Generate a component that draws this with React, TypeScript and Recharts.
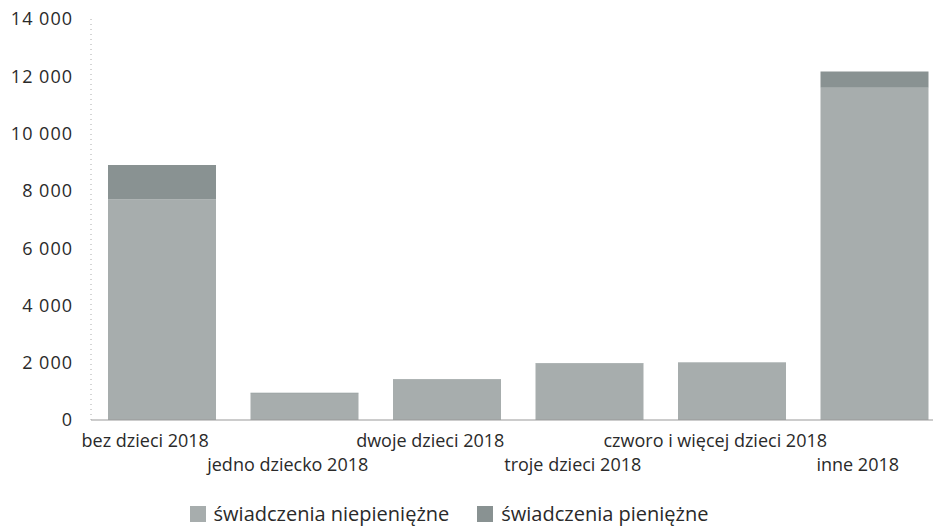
import React from "react";
import { Bar, BarChart, Legend, XAxis, YAxis } from "recharts";

const categories = [
  "bez dzieci 2018",
  "jedno dziecko 2018",
  "dwoje dzieci 2018",
  "troje dzieci 2018",
  "czworo i więcej dzieci 2018",
  "inne 2018",
];
const niepieniezne = [7700, 920, 1410, 1980, 2010, 11600];
const pieniezne = [1200, 30, 20, 10, 10, 570];
const yTicks = [0, 2000, 4000, 6000, 8000, 10000, 12000, 14000];

const LIGHT = "#a7adad";
const DARK = "#899292";
const FONT = "'Open Sans', sans-serif";

const data = categories.map((name, i) => ({
  name,
  niep: niepieniezne[i],
  pien: pieniezne[i],
}));

function fmt(v: number): string {
  return v >= 1000 ? `${Math.floor(v / 1000)} ${String(v % 1000).padStart(3, "0")}` : String(v);
}

function XTick(props: any) {
  const { x, y, payload, index } = props;
  const dy = index % 2 === 0 ? 19 : 43;
  return (
    <text x={x - 17} y={y + dy} textAnchor="middle" fontSize={18} fill="#2a2a2a" fontFamily={FONT}>
      {payload.value}
    </text>
  );
}

function LegendContent() {
  const items = [
    { label: "świadczenia niepieniężne", color: LIGHT },
    { label: "świadczenia pieniężne", color: DARK },
  ];
  return (
    <div style={{ display: "flex", justifyContent: "center", gap: 28, fontFamily: FONT, fontSize: 20, color: "#2a2a2a", paddingRight: 48 }}>
      {items.map((it) => (
        <div key={it.label} style={{ display: "flex", alignItems: "center" }}>
          <span style={{ width: 16, height: 16, background: it.color, marginRight: 8, display: "inline-block" }} />
          {it.label}
        </div>
      ))}
    </div>
  );
}

export default function App() {
  return (
    <div style={{ position: "absolute", left: 0, top: 0, width: 933, height: 526, overflow: "hidden", background: "#fff" }}>
      <BarChart
        width={950}
        height={526}
        data={data}
        margin={{ top: 19, right: 4, left: 0, bottom: 0 }}
        barSize={108}
      >
        <XAxis
          dataKey="name"
          interval={0}
          tickLine={false}
          axisLine={{ stroke: "#999" }}
          height={80}
          tick={<XTick />}
        />
        <YAxis
          domain={[0, 14000]}
          ticks={yTicks}
          width={91}
          tickLine={false}
          tickMargin={12}
          axisLine={{ stroke: "#aaa", strokeDasharray: "1 4" }}
          tickFormatter={fmt}
          tick={{ fontSize: 18, fill: "#2a2a2a", fontFamily: FONT, letterSpacing: 1 }}
        />
        <Legend content={<LegendContent />} verticalAlign="bottom" wrapperStyle={{ height: 26 }} />
        <Bar dataKey="niep" name="świadczenia niepieniężne" stackId="a" fill={LIGHT} isAnimationActive={false} />
        <Bar dataKey="pien" name="świadczenia pieniężne" stackId="a" fill={DARK} isAnimationActive={false} />
      </BarChart>
    </div>
  );
}
